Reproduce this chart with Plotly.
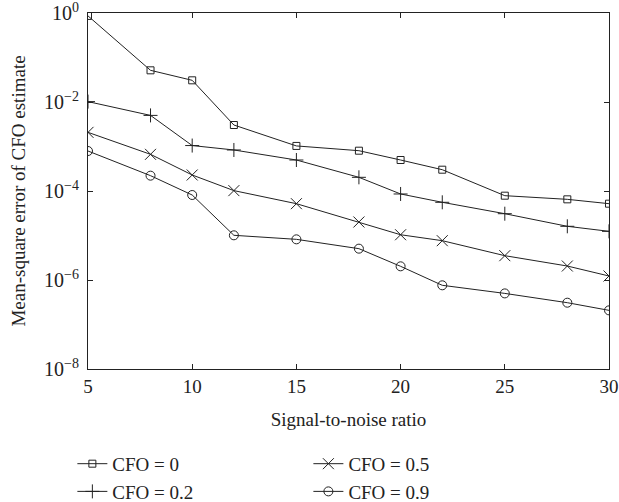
import plotly.graph_objects as go

snr = [5, 8, 10, 12, 15, 18, 20, 22, 25, 28, 30]
mse_cfo_0 = [0.86, 0.0515, 0.0307, 3.04e-3, 1.03e-3, 8.05e-4, 4.97e-4, 3.01e-4, 7.85e-5, 6.5e-5, 5.19e-5]
mse_cfo_02 = [1.02e-2, 5.0e-3, 1.05e-3, 8.35e-4, 4.97e-4, 2.03e-4, 8.57e-5, 5.57e-5, 3.09e-5, 1.61e-5, 1.24e-5]
mse_cfo_05 = [2.08e-3, 6.67e-4, 2.29e-4, 1.02e-4, 5.19e-5, 2.01e-5, 1.04e-5, 7.65e-6, 3.52e-6, 2.06e-6, 1.23e-6]
mse_cfo_09 = [7.92e-4, 2.21e-4, 8.13e-5, 1.01e-5, 8.2e-6, 5.06e-6, 2.03e-6, 7.6e-7, 5.0e-7, 3.09e-7, 2.08e-7]

series_names = ["CFO = 0", "CFO = 0.2", "CFO = 0.5", "CFO = 0.9"]
x_ticks = [5, 10, 15, 20, 25, 30]
y_tickvals = [1, 1e-2, 1e-4, 1e-6, 1e-8]
y_ticktext = ["10<sup>0</sup>", "10<sup>−2</sup>", "10<sup>−4</sup>", "10<sup>−6</sup>", "10<sup>−8</sup>"]

ink = "#222222"
font_family = "Liberation Serif"
fs = 19

styles = [
    dict(symbol="square-open", size=7, legend="legend"),
    dict(symbol="cross-thin-open", size=10, legend="legend"),
    dict(symbol="x-thin-open", size=11, legend="legend2"),
    dict(symbol="circle-open", size=9, legend="legend2"),
]
data = [mse_cfo_0, mse_cfo_02, mse_cfo_05, mse_cfo_09]

fig = go.Figure()
for name, ys, st in zip(series_names, data, styles):
    fig.add_trace(go.Scatter(
        x=snr, y=ys, name=name, mode="lines+markers",
        line=dict(color=ink, width=1),
        marker=dict(symbol=st["symbol"], size=st["size"], color=ink,
                    line=dict(color=ink, width=1)),
        legend=st["legend"], legendgroup=name,
    ))

axis_common = dict(
    showline=True, linecolor=ink, linewidth=1, mirror="ticks",
    ticks="inside", ticklen=5, tickcolor=ink, showgrid=False, zeroline=False,
    automargin=False, ticklabeloverflow="allow",
)

fig.update_layout(
    width=619, height=502,
    margin=dict(l=88, r=10, t=13, b=133, autoexpand=False),
    paper_bgcolor="white", plot_bgcolor="white",
    font=dict(family=font_family, size=fs, color=ink),
    xaxis=dict(range=[5, 30], tickvals=x_ticks,
               tickfont=dict(family=font_family, size=19, color=ink),
               title=dict(text="Signal-to-noise ratio", font=dict(size=fs), standoff=16),
               **axis_common),
    yaxis=dict(type="log", range=[-8, 0], tickvals=y_tickvals, ticktext=y_ticktext,
               tickfont=dict(family=font_family, size=20, color=ink),
               ticklabelstandoff=4,
               title=dict(text="Mean-square error of CFO estimate", font=dict(size=fs), standoff=13),
               **axis_common),
    legend=dict(x=-0.03, y=-0.213, xanchor="left", yanchor="top",
                bgcolor="rgba(0,0,0,0)", font=dict(size=fs), tracegroupgap=0,
                traceorder="grouped", itemwidth=30),
    legend2=dict(x=0.423, y=-0.213, xanchor="left", yanchor="top",
                 bgcolor="rgba(0,0,0,0)", font=dict(size=fs), tracegroupgap=0,
                 traceorder="grouped", itemwidth=30),
)

fig.write_html("out.html")
